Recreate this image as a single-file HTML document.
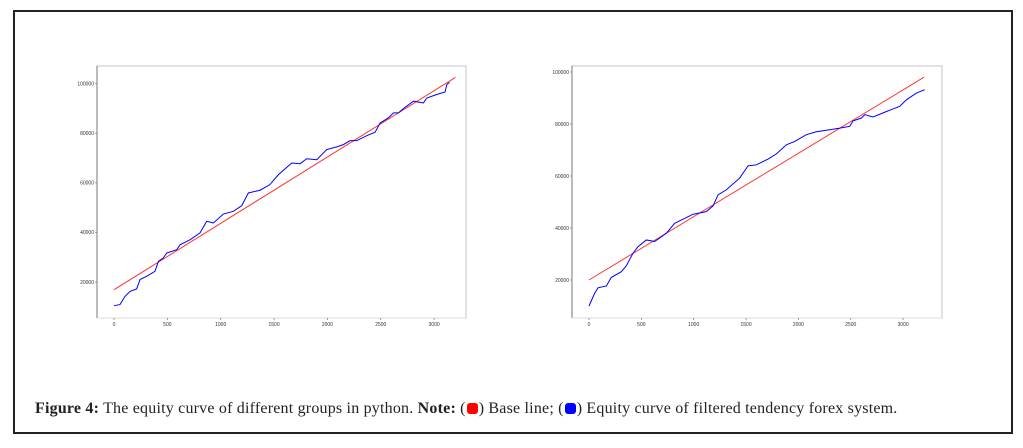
<!DOCTYPE html>
<html><head><meta charset="utf-8">
<style>
html,body{margin:0;padding:0;background:#fff;}
body{width:1023px;height:448px;position:relative;overflow:hidden;}
#frame{position:absolute;left:13px;top:10px;width:1000px;height:424px;border:2px solid #222;box-sizing:border-box;}
#caption{position:absolute;left:35px;top:400px;font-family:"Liberation Serif",serif;font-size:16px;letter-spacing:0.2px;color:#222;white-space:nowrap;}
.sw{display:inline-block;width:11px;height:11px;border-radius:3px;vertical-align:-1px;margin:0 1px;}
svg{position:absolute;left:0;top:0;}
</style></head><body>
<div id="frame"></div>
<svg id="chart" width="1023" height="448"></svg>
<div id="caption"><b>Figure 4:</b> The equity curve of different groups in python. <b>Note:</b> (<span class="sw" style="background:#f00"></span>) Base line; (<span class="sw" style="background:#00f"></span>) Equity curve of filtered tendency forex system.</div>
<script>
const xTicks=[0,500,1000,1500,2000,2500,3000];
const xTickLabels=["0","500","1000","1500","2000","2500","3000"];
const yTicks=[20000,40000,60000,80000,100000];
const yTickLabels=["20000","40000","60000","80000","100000"];
const leftT=[0,56,103,150,212,244,306,384,416,462,494,588,619,712,806,869,931,1025,1119,1197,1259,1369,1462,1541,1666,1744,1806,1900,1994,2087,2150,2212,2275,2369,2447,2494,2572,2619,2666,2712,2806,2900,2931,3025,3103,3119,3144];
const leftEquity=[10450,10900,14200,16200,17200,21000,22300,24300,28300,29700,31700,33000,35000,37000,39800,44500,43800,47400,48500,50800,55900,57000,59300,63300,68000,67700,69700,69300,73400,74500,75400,77000,77000,79000,80400,84100,86200,88200,88200,89900,92900,92200,94200,95600,96600,99600,100500];
const leftBaseT=[0,3200];
const leftBase=[16900,102500];
const rightT=[0,54,86,166,213,309,357,420,468,548,627,739,818,898,994,1121,1185,1232,1312,1439,1519,1599,1710,1790,1885,1965,2076,2172,2299,2395,2490,2522,2602,2634,2713,2841,2968,3032,3127,3207];
const rightEquity=[10000,14900,17000,17700,21000,23200,25500,30300,32800,35400,34800,38000,41800,43400,45300,46300,48500,52700,54700,59200,63900,64300,66500,68500,72000,73300,75900,77000,77800,78400,79100,81200,82300,83600,82700,84800,86800,89300,91900,93200];
const rightBaseT=[0,3200];
const rightBase=[20000,98000];

const NS="http://www.w3.org/2000/svg";
const svg=document.getElementById('chart');
function mk(tag,attrs,parent){const e=document.createElementNS(NS,tag);for(const k in attrs)e.setAttribute(k,attrs[k]);(parent||svg).appendChild(e);return e;}

function drawChart(name,box,x0px,xPer1000,y20px,yPer20000,eqT,eqV,bT,bV){
  const g=mk('g',{});
  
  
  const xs=t=>x0px+t/1000*xPer1000;
  const ys=v=>y20px-(v-20000)/20000*yPer20000;
  const fr=mk('rect',{x:box.l,y:box.t,width:box.r-box.l,height:box.b-box.t,fill:'none',stroke:'#c4c4c4','stroke-width':1},g);
  
  
  const ya=mk('line',{x1:box.l,y1:box.t,x2:box.l,y2:box.b,stroke:'#777','stroke-width':1},g);
  
  
  const xa=mk('line',{x1:box.l,y1:box.b,x2:box.r,y2:box.b,stroke:'#ddd','stroke-width':1},g);
  
  
  xTicks.forEach((t,i)=>{
    const x=xs(t);
    mk('line',{x1:x,y1:box.b,x2:x,y2:box.b+2,stroke:'#777','stroke-width':0.7},g);
    const tx=mk('text',{x:x,y:box.b+8,'font-size':5,'font-family':'Liberation Sans, sans-serif','text-anchor':'middle',fill:'#333'},g);
    tx.textContent=xTickLabels[i];
    
    
  });
  yTicks.forEach((v,i)=>{
    const y=ys(v);
    mk('line',{x1:box.l-2,y1:y,x2:box.l,y2:y,stroke:'#777','stroke-width':0.7},g);
    const tx=mk('text',{x:box.l-3,y:y+1.8,'font-size':5,'font-family':'Liberation Sans, sans-serif','text-anchor':'end',fill:'#333'},g);
    tx.textContent=yTickLabels[i];
    
    
  });
  const bl=mk('polyline',{points:bT.map((t,i)=>xs(t)+','+ys(bV[i])).join(' '),fill:'none',stroke:'#f33','stroke-width':1},g);
  
  
  const el=mk('polyline',{points:eqT.map((t,i)=>xs(t)+','+ys(eqV[i])).join(' '),fill:'none',stroke:'#00f','stroke-width':1},g);
  
  
}
drawChart('left-chart',{l:97,t:66,r:466,b:318},114,106.7,282,49.6,leftT,leftEquity,leftBaseT,leftBase);
drawChart('right-chart',{l:572,t:66,r:942,b:318},589,104.7,280,52,rightT,rightEquity,rightBaseT,rightBase);
</script>
</body></html>
